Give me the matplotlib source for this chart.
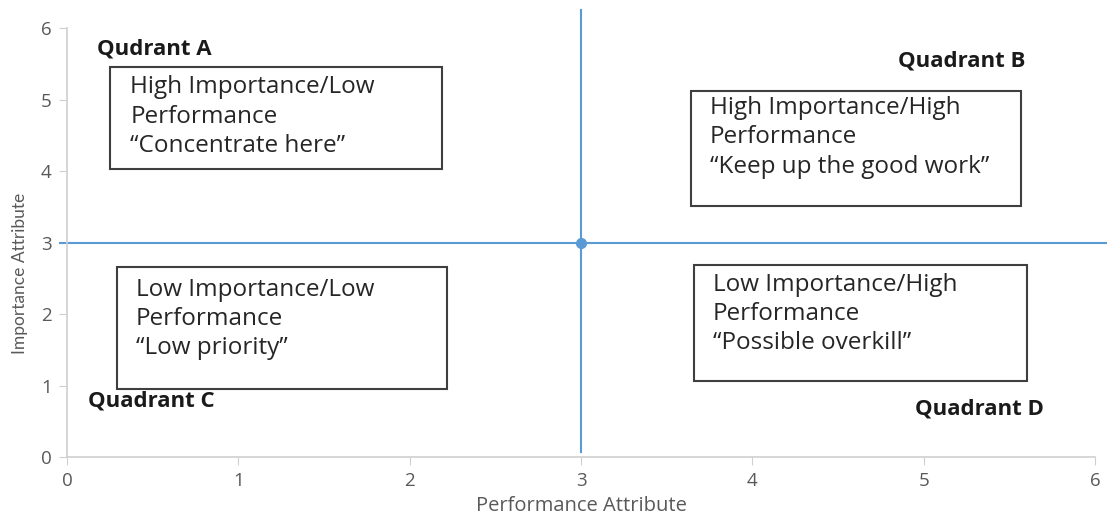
import numpy as np
import matplotlib.pyplot as plt
from matplotlib.patches import Rectangle

# quadrant split point
split_x = 3
split_y = 3

# boxes: (x0, y0, x1, y1) in data units
box_x0 = [0.25, 3.64, 0.29, 3.66]
box_y0 = [4.03, 3.51, 0.95, 1.06]
box_x1 = [2.19, 5.57, 2.22, 5.60]
box_y1 = [5.45, 5.12, 2.66, 2.69]

box_text = [
    "High Importance/Low\nPerformance\n\u201cConcentrate here\u201d",
    "High Importance/High\nPerformance\n\u201cKeep up the good work\u201d",
    "Low Importance/Low\nPerformance\n\u201cLow priority\u201d",
    "Low Importance/High\nPerformance\n\u201cPossible overkill\u201d",
]
text_x = [0.37, 3.75, 0.40, 3.77]
text_y = [4.76, 4.47, 1.93, 2.00]

quad_labels = ["Qudrant A", "Quadrant B", "Quadrant C", "Quadrant D"]
quad_x = [0.175, 4.85, 0.12, 4.95]
quad_y = [5.71, 5.54, 0.78, 0.67]

ticks = [0, 1, 2, 3, 4, 5, 6]

blue = "#5b9bd5"
grey = "#595959"
font = ["Open Sans", "DejaVu Sans"]

fig = plt.figure(figsize=(11.07, 5.17), dpi=100)
ax = fig.add_axes([0.0605, 0.116, 0.9287, 0.8298])
ax.set_xlim(0, 6)
ax.set_ylim(0, 6)

for s in ["top", "right"]:
    ax.spines[s].set_visible(False)
for s in ["left", "bottom"]:
    ax.spines[s].set_color("#d0d0d0")
    ax.spines[s].set_linewidth(1.2)

ax.set_xticks(ticks)
ax.set_yticks(ticks)
ax.tick_params(direction="out", length=6, color="#d0d0d0", labelcolor=grey,
               labelsize=13.5, pad=5)
for lab in ax.get_xticklabels() + ax.get_yticklabels():
    lab.set_family(font)

ax.set_xlabel("Performance Attribute", fontsize=14.5, color=grey, family=font)
ax.xaxis.set_label_coords(0.5, -0.09)
ax.set_ylabel("Importance Attribute", fontsize=12.5, color=grey,
              family=["Lato", "DejaVu Sans"])
ax.yaxis.set_label_coords(-0.038, 0.427)

# quadrant lines
ax.plot([split_x, split_x], [0.07, 6.25], color=blue, lw=1.5, clip_on=False)
ax.plot([-0.04, 6.07], [split_y, split_y], color=blue, lw=1.5, clip_on=False)
ax.plot([split_x], [split_y], "o", color=blue, ms=7, clip_on=False)

for i in range(4):
    ax.add_patch(Rectangle((box_x0[i], box_y0[i]), box_x1[i] - box_x0[i],
                           box_y1[i] - box_y0[i], fill=False,
                           edgecolor="#3f3f3f", lw=1.5))
    ax.text(text_x[i], text_y[i], box_text[i], ha="left", va="center",
            fontsize=17.5, linespacing=1.3, color="#262626", family=font)
    ax.text(quad_x[i], quad_y[i], quad_labels[i], ha="left", va="center",
            fontsize=16, fontweight="bold", color="#1a1a1a", family=font)

plt.savefig("out.png", dpi=100)
